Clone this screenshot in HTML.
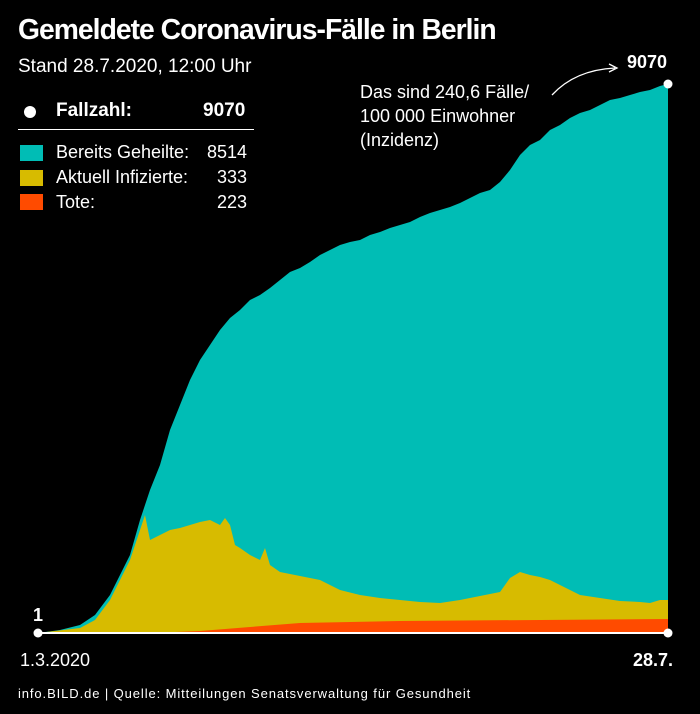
<!DOCTYPE html><html><head><style>
body{margin:0;background:#000;width:700px;height:714px;overflow:hidden;font-family:"Liberation Sans",sans-serif;color:#fff;position:relative}
.t{position:absolute;white-space:nowrap}
</style></head><body>
<div class="t" style="left:18px;top:14px;font-size:29px;font-weight:bold;letter-spacing:-1px;transform:scaleX(0.975);transform-origin:left">Gemeldete Coronavirus-Fälle in Berlin</div>
<div class="t" style="left:18px;top:56px;font-size:19px">Stand 28.7.2020, 12:00 Uhr</div>
<div class="t" style="left:24px;top:106px;width:12px;height:12px;border-radius:6px;background:#fff"></div>
<div class="t" style="left:56px;top:100px;font-size:19px;font-weight:bold">Fallzahl:</div>
<div class="t" style="left:203px;top:100px;font-size:19px;font-weight:bold">9070</div>
<div style="position:absolute;left:18px;top:129px;width:236px;height:1px;background:#fff"></div>
<div class="t" style="left:20px;top:145px;width:23px;height:16px;background:#00bdb5"></div>
<div class="t" style="left:20px;top:170px;width:23px;height:16px;background:#d7bb00"></div>
<div class="t" style="left:20px;top:194px;width:23px;height:16px;background:#ff4b00"></div>
<div class="t" style="left:56px;top:142px;font-size:18px">Bereits Geheilte:</div>
<div class="t" style="left:207px;top:142px;font-size:18px">8514</div>
<div class="t" style="left:56px;top:167px;font-size:18px">Aktuell Infizierte:</div>
<div class="t" style="left:217px;top:167px;font-size:18px">333</div>
<div class="t" style="left:56px;top:192px;font-size:18px">Tote:</div>
<div class="t" style="left:217px;top:192px;font-size:18px">223</div>
<div class="t" style="left:360px;top:80px;font-size:18px;line-height:24px">Das sind 240,6 Fälle/<br>100 000 Einwohner<br>(Inzidenz)</div>
<div class="t" style="left:627px;top:52px;font-size:18px;font-weight:bold">9070</div>
<div class="t" style="left:33px;top:605px;font-size:18px;font-weight:bold">1</div>
<div class="t" style="left:20px;top:650px;font-size:18px">1.3.2020</div>
<div class="t" style="left:633px;top:650px;font-size:18px;font-weight:bold">28.7.</div>
<div class="t" style="left:18px;top:686px;font-size:13px;letter-spacing:0.9px">info.BILD.de | Quelle: Mitteilungen Senatsverwaltung für Gesundheit</div>
<svg width="700" height="714" style="position:absolute;left:0;top:0">
<polygon fill="#00bdb5" points="38,633 60,630 80,625 95,615 110,595 120,575 130,555 140,520 150,490 160,465 170,430 180,405 190,380 200,360 210,345 220,330 230,318 240,310 250,300 260,295 270,288 280,280 290,272 300,268 310,262 320,255 330,250 340,245 350,242 360,240 370,235 380,232 390,228 400,225 410,222 420,217 430,213 440,210 450,207 460,203 470,198 480,193 490,190 500,182 510,170 520,155 530,145 540,140 550,130 560,125 570,118 580,113 590,110 600,105 610,100 620,98 630,95 640,92 650,90 660,86 668,84 668,633"/>
<polygon fill="#d7bb00" points="38,633 80,628 95,620 110,600 120,580 130,560 140,530 145,515 150,540 160,535 170,530 180,528 190,525 200,522 210,520 220,525 225,518 230,525 235,545 240,548 250,555 260,560 265,548 270,565 280,572 300,576 320,580 340,590 360,595 380,598 400,600 420,602 440,603 460,600 480,596 500,592 510,578 520,572 530,575 540,577 550,580 560,585 570,590 580,595 600,598 620,601 640,602 650,603 660,600 668,600 668,633"/>
<polygon fill="#ff4b00" points="38,633 150,633 200,631 250,627 300,623 400,621 668,619 668,633"/>
<line x1="38" y1="633" x2="668" y2="633" stroke="#fff" stroke-width="2"/>
<circle cx="38" cy="633" r="4.5" fill="#fff"/><circle cx="668" cy="633" r="4.5" fill="#fff"/><circle cx="668" cy="84" r="4.5" fill="#fff"/>
<path d="M552,95 Q575,70 615,68" fill="none" stroke="#fff" stroke-width="1.3"/>
<path d="M609,64 L617,68 L609,72" fill="none" stroke="#fff" stroke-width="1.3"/>
</svg>
</body></html>
